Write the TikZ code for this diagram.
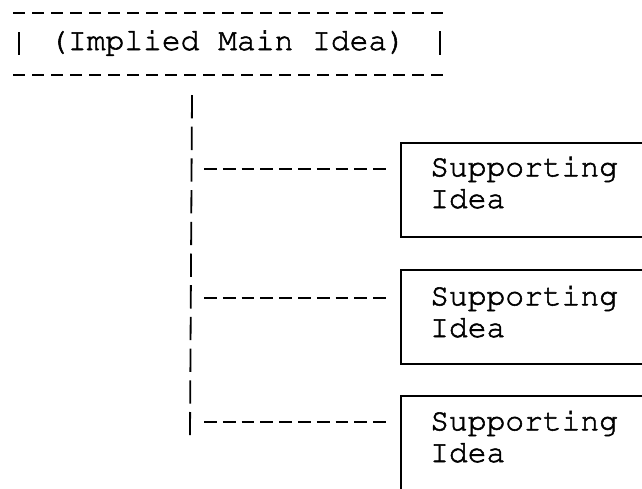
\documentclass[tikz,border=0pt]{standalone}
\usepackage[T1]{fontenc}
\usepackage{courier}
\usetikzlibrary{calc}
% slightly heavier typewriter strokes: fill and stroke the glyph outlines
\newcommand{\inkon}{\special{pdf:literal 2 Tr 0.55 w}}
\newcommand{\inkoff}{\special{pdf:literal 0 Tr}}
\begin{document}
\begin{tikzpicture}[x=1pt,y=-1pt,
  lbl/.style={font=\ttfamily\fontsize{31.3}{31.7}\selectfont, inner sep=0pt, align=left,
              execute at begin node=\inkon, execute at end node=\inkoff},
  rule/.style={line width=2pt, dash pattern=on 12.3pt off 6.7pt},
  conn/.style={line width=2pt, dash pattern=on 12.8pt off 6pt},
  trunk/.style={line width=1.8pt, dash pattern=on 23.3pt off 8.4pt},
  bar/.style={line width=1.8pt},
  box/.style={draw, line width=1.5pt, minimum width=260pt, minimum height=94pt,
              inner sep=0pt, anchor=north west}]
\fill[white] (0,0) rectangle (642,488);
\useasboundingbox (0,0) rectangle (642,488);
\clip (0,0) rectangle (642,488);

% implied main idea, framed by dashed rules and bars
\node[lbl, anchor=base west] (main) at (49,50) {(Implied Main Idea)};
\coordinate (ra) at (13,12.5);  \coordinate (rb) at (443,12.5);
\coordinate (rc) at (13,75);    \coordinate (rd) at (443,75);
\draw[rule] (ra) -- (rb);
\draw[rule] (rc) -- (rd);
\draw[bar] (19,32) -- (19,55);
\draw[bar] (440,31) -- (440,55);

% supporting idea boxes (the base anchor sits on the second line)
\node[box] (s1) at (400,142) {};
\node[box] (s2) at (400,269) {};
\node[box] (s3) at (400,395) {};
\node[lbl, anchor=base west] (s1t) at (430,208) {Supporting\\Idea};
\node[lbl, anchor=base west] (s2t) at (430,337) {Supporting\\Idea};
\node[lbl, anchor=base west] (s3t) at (430,462) {Supporting\\Idea};

% trunk and branches
\coordinate (t0) at (192,95);
\coordinate (t1) at (190,435);
\draw[trunk] (t0) -- (t1);
\coordinate (j1) at (204,169);
\coordinate (j2) at (204,297.5);
\coordinate (j3) at (204,422);
\draw[conn, shorten >=14pt] (j1) -- (j1 -| s1.west);
\draw[conn, shorten >=14pt] (j2) -- (j2 -| s2.west);
\draw[conn, shorten >=14pt] (j3) -- (j3 -| s3.west);
\end{tikzpicture}
\end{document}
